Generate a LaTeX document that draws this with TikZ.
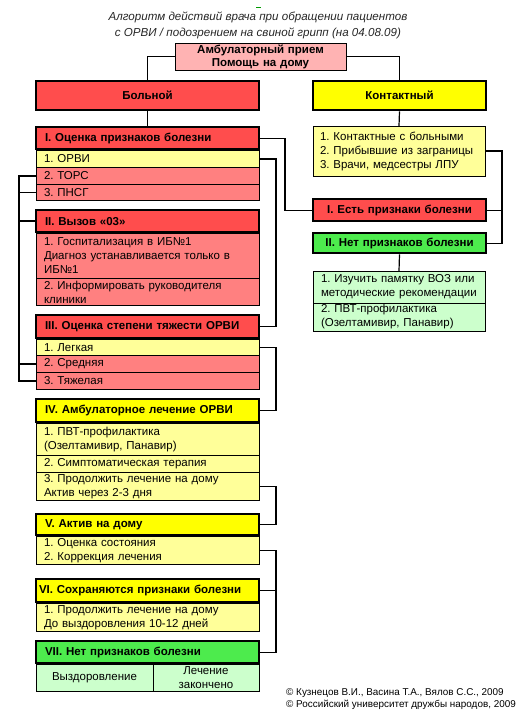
\documentclass[tikz,border=0pt]{standalone}
\usepackage{fontspec}
\setmainfont{Liberation Sans}
\usetikzlibrary{positioning}
\frenchspacing
\definecolor{hdrred}{RGB}{255,77,77}
\definecolor{itmred}{RGB}{255,128,128}
\definecolor{hdryel}{RGB}{255,255,0}
\definecolor{itmyel}{RGB}{255,255,153}
\definecolor{hdrgrn}{RGB}{77,235,77}
\definecolor{itmgrn}{RGB}{204,255,204}
\definecolor{ambpink}{RGB}{255,179,179}
\tikzset{
  hdr/.style={draw, line width=2.4pt, anchor=north west, outer xsep=0pt, outer ysep=1.2pt,
    minimum height=22, text width=205, inner xsep=9, inner ysep=0, align=left,
    font=\bfseries\fontsize{11.5}{14}\selectfont},
  itm/.style={draw, line width=0.8pt, anchor=north west, outer sep=0pt,
    minimum height=17, text width=207, inner xsep=8, inner ysep=0, align=left,
    font=\fontsize{11.5}{14}\selectfont},
  lnk/.style={line width=1.2pt},
}
\begin{document}
\begin{tikzpicture}[x=1pt,y=-1pt]
\useasboundingbox (0,0) rectangle (522,720);
\def\xa{36}
\def\xb{313}

\draw[green!60!black, line width=1pt] (256,7) -- (261,7);
\node[align=center, text=black!85, font=\itshape\fontsize{11.6}{16}\selectfont] (ttl) at (258,25)
  {Алгоритм действий врача при обращении пациентов\\с ОРВИ / подозрением на свиной грипп (на 04.08.09)};

\node[itm, fill=ambpink, text width=155, minimum height=27, align=center,
  font=\bfseries\fontsize{11.5}{13}\selectfont] (amb) at (175,43) {Амбулаторный прием\\Помощь на дому};

\node[hdr, fill=hdrred, minimum height=29, align=center] (bol) at (\xa,80) {Больной};
\node[hdr, fill=hdryel, minimum height=29, text width=155, align=center] (kon) at (\xb,80) {Контактный};

\node[hdr, fill=hdrred] (oc) at (\xa,126) {I. Оценка признаков болезни};
\node[itm, fill=itmyel] (oc1) at (oc.south west) {1. ОРВИ};
\node[itm, fill=itmred] (oc2) at (oc1.south west) {2. ТОРС};
\node[itm, fill=itmred, minimum height=16] (oc3) at (oc2.south west) {3. ПНСГ};

\node[hdr, fill=hdrred] (vy) at (\xa,209) {II. Вызов «03»};
\node[itm, fill=itmred, minimum height=45] (vy1) at (vy.south west) {1. Госпитализация в ИБ№1\\Диагноз устанавливается только в\\ИБ№1};
\node[itm, fill=itmred, minimum height=27] (vy2) at (vy1.south west) {2. Информировать руководителя\\клиники};

\node[hdr, fill=hdrred, minimum height=23] (ts) at (\xa,314) {III. Оценка степени тяжести ОРВИ};
\node[itm, fill=itmyel, minimum height=16] (ts1) at (ts.south west) {1. Легкая};
\node[itm, fill=itmred] (ts2) at (ts1.south west) {2. Средняя};
\node[itm, fill=itmred] (ts3) at (ts2.south west) {3. Тяжелая};

\node[hdr, fill=hdryel, minimum height=23] (am) at (\xa,398) {IV. Амбулаторное лечение ОРВИ};
\node[itm, fill=itmyel, minimum height=32] (am1) at (am.south west) {1. ПВТ-профилактика\\(Озелтамивир, Панавир)};
\node[itm, fill=itmyel] (am2) at (am1.south west) {2. Симптоматическая терапия};
\node[itm, fill=itmyel, minimum height=28] (am3) at (am2.south west) {3. Продолжить лечение на дому\\Актив через 2-3 дня};

\node[hdr, fill=hdryel, minimum height=21] (ak) at (\xa,513) {V. Актив на дому};
\node[itm, fill=itmyel, minimum height=28] (ak1) at (ak.south west) {1. Оценка состояния\\2. Коррекция лечения};

\node[hdr, fill=hdryel, minimum height=23, inner xsep=3, text width=217] (sp) at (\xa,578) {VI. Сохраняются признаки болезни};
\node[itm, fill=itmyel, minimum height=28] (sp1) at (sp.south west) {1. Продолжить лечение на дому\\До выздоровления 10-12 дней};

\node[hdr, fill=hdrgrn] (np) at (\xa,640) {VII. Нет признаков болезни};
\node[itm, fill=itmgrn, minimum height=27, text width=101, align=center] (np1) at (np.south west) {Выздоровление};
\node[itm, fill=itmgrn, minimum height=27, text width=90, align=center] (np2) at (np1.north east) {Лечение\\закончено};

\node[itm, fill=itmyel, minimum height=50, text width=158, inner xsep=7] (kl) at (\xb,126)
  {1. Контактные с больными\\2. Прибывшие из заграницы\\3. Врачи, медсестры ЛПУ};
\node[hdr, fill=hdrred, text width=155, align=center] (est) at (\xb,198) {I. Есть признаки болезни};
\node[hdr, fill=hdrgrn, minimum height=20, text width=155, align=center] (nt) at (\xb,232) {II. Нет признаков болезни};
\node[itm, fill=itmgrn, minimum height=32, text width=156] (nl1) at (\xb,271) {1. Изучить памятку ВОЗ или\\методические рекомендации};
\node[itm, fill=itmgrn, minimum height=28, text width=156] (nl2) at (nl1.south west) {2. ПВТ-профилактика\\(Озелтамивир, Панавир)};

\node[anchor=west, align=left, inner sep=0, font=\fontsize{9.9}{12}\selectfont] (cpy) at (286,699)
  {© Кузнецов В.И., Васина Т.А., Вялов С.С., 2009\\© Российский университет дружбы народов, 2009};

\draw[lnk] (amb.west) -| (bol.north);
\draw[lnk] (amb.east) -| (kon.north);
\draw[lnk] (bol.south) -- (oc.north);
\draw[lnk] (kon.south) -- (kl.north);
\draw[lnk] (oc.east) -- ++(26,0) |- (est.west);
\draw[lnk] (oc1.east) -- ++(17,0) |- (ts.east);
\draw[lnk] (oc2.west) -- ++(-17,0) coordinate (lt) |- (ts3.west);
\draw[lnk] (oc3.west) -- (oc3.west -| lt);
\draw[lnk, line width=2pt] (vy.west) -- (vy.west -| lt);
\draw[lnk] (ts2.west) -- (ts2.west -| lt);
\draw[lnk] (ts1.east) -- ++(17,0) |- (am.east);
\draw[lnk] (am3.east) -- ++(17,0) |- (ak.east);
\draw[lnk] (ak1.east) -- ++(17,0) coordinate (rb) |- (np.east);
\draw[lnk] (sp.east) -- (sp.east -| rb);
\draw[lnk] (kl.east) -- ++(17,0) coordinate (rt) |- (nt.east);
\draw[lnk] (est.east) -- (est.east -| rt);
\draw[lnk] (nt.south) -- (nl1.north);

\end{tikzpicture}
\end{document}
